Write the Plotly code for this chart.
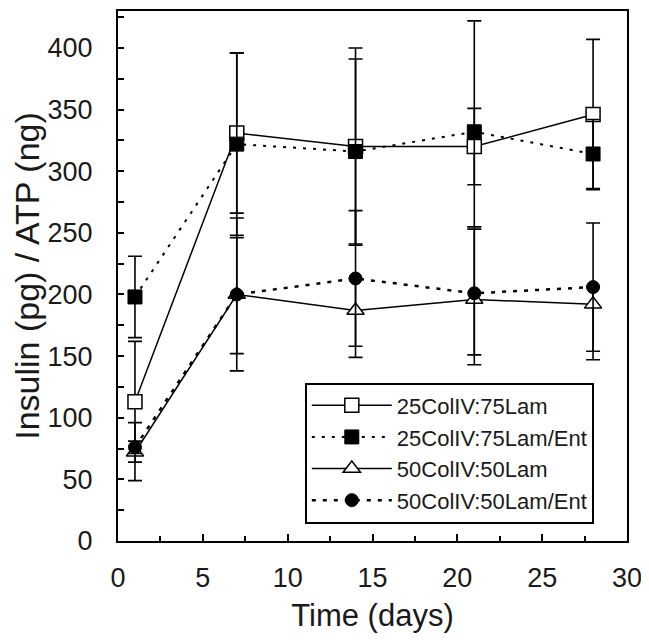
import plotly.graph_objects as go

days = [1, 7, 14, 21, 28]

series_names = ["25ColIV:75Lam", "25ColIV:75Lam/Ent", "50ColIV:50Lam", "50ColIV:50Lam/Ent"]

lam25 = [113, 331, 320, 320, 346]
lam25_err_plus = [49, 65, 80, 31, 61]
lam25_err_minus = [49, 65, 80, 31, 61]

lam25ent = [198, 322, 316, 332, 314]
lam25ent_err_plus = [33, 74, 75, 90, 28]
lam25ent_err_minus = [33, 74, 75, 77, 28]

lam50 = [72, 200, 187, 196, 192]
lam50_err_plus = [24, 62, 26, 59, 14]
lam50_err_minus = [23, 62, 38, 53, 45]

lam50ent = [76, 200, 213, 201, 206]
lam50ent_err_plus = [5, 46, 55, 52, 52]
lam50ent_err_minus = [5, 48, 55, 50, 52]

x_ticks = [0, 5, 10, 15, 20, 25, 30]
y_ticks = [0, 50, 100, 150, 200, 250, 300, 350, 400]

FONT = "Liberation Sans, Arial, sans-serif"
BLACK = "#000000"
TEXT = "#1a1a1a"


def err(plus, minus):
    return dict(type="data", symmetric=False, array=plus, arrayminus=minus,
                color=BLACK, thickness=1.6, width=7, visible=True)


fig = go.Figure()

fig.add_trace(go.Scatter(
    x=days, y=lam50, name=series_names[2], mode="lines+markers",
    line=dict(color=BLACK, width=1.5),
    marker=dict(symbol="triangle-up", size=15, color="white",
                line=dict(color=BLACK, width=1.5)),
    error_y=err(lam50_err_plus, lam50_err_minus)))

fig.add_trace(go.Scatter(
    x=days, y=lam50ent, name=series_names[3], mode="lines+markers",
    line=dict(color=BLACK, width=2.5, dash="4px,7px"),
    marker=dict(symbol="circle", size=13, color=BLACK,
                line=dict(color=BLACK, width=1)),
    error_y=err(lam50ent_err_plus, lam50ent_err_minus)))

fig.add_trace(go.Scatter(
    x=days, y=lam25, name=series_names[0], mode="lines+markers",
    line=dict(color=BLACK, width=1.5),
    marker=dict(symbol="square", size=14, color="white",
                line=dict(color=BLACK, width=1.5)),
    error_y=err(lam25_err_plus, lam25_err_minus)))

fig.add_trace(go.Scatter(
    x=days, y=lam25ent, name=series_names[1], mode="lines+markers",
    line=dict(color=BLACK, width=2, dash="3px,7px"),
    marker=dict(symbol="square", size=14, color=BLACK,
                line=dict(color=BLACK, width=1)),
    error_y=err(lam25ent_err_plus, lam25ent_err_minus)))

# page body has an 8px margin, so the figure is sized to fill the rest of the window
fig.update_layout(
    width=641, height=636,
    margin=dict(l=110, r=22, t=1, b=103),
    paper_bgcolor="white", plot_bgcolor="white",
    font=dict(family=FONT, size=24, color=TEXT),
    showlegend=True,
    legend=dict(
        traceorder="normal",
        x=0.367, y=0.299, xanchor="left", yanchor="top",
        bgcolor="white", bordercolor=BLACK, borderwidth=2,
        font=dict(family=FONT, size=22, color=TEXT),
        itemwidth=80, tracegroupgap=0,
    ),
    xaxis=dict(
        range=[0, 30], tickvals=x_ticks, ticktext=[str(v) for v in x_ticks],
        ticks="inside", ticklen=7, tickwidth=1.5, tickcolor=BLACK,
        minor=dict(dtick=2.5, ticks="inside", ticklen=5, tickwidth=1.5, tickcolor=BLACK),
        showline=True, linewidth=2, linecolor=BLACK, mirror=True,
        showgrid=False, zeroline=False,
        tickfont=dict(size=27), ticklabelstandoff=12,
        title=dict(text="Time (days)", font=dict(size=31), standoff=12),
    ),
    yaxis=dict(
        range=[0, 430], tickvals=y_ticks, ticktext=[str(v) for v in y_ticks],
        ticks="inside", ticklen=6, tickwidth=1.5, tickcolor=BLACK,
        minor=dict(dtick=25, ticks="inside", ticklen=6, tickwidth=1.5, tickcolor=BLACK),
        showline=True, linewidth=2, linecolor=BLACK, mirror=True,
        showgrid=False, zeroline=False,
        tickfont=dict(size=27), ticklabelstandoff=18,
        title=dict(text="Insulin (pg) / ATP (ng)", font=dict(size=34), standoff=10),
    ),
)

order = {series_names[0]: 1, series_names[1]: 2, series_names[2]: 3, series_names[3]: 4}
for tr in fig.data:
    tr.legendrank = order[tr.name]

fig.write_html("out.html")
